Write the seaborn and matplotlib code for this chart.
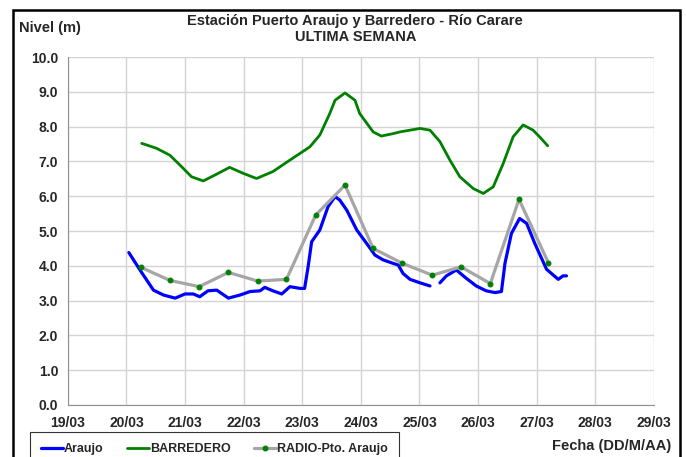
import pandas as pd
import matplotlib.pyplot as plt
import matplotlib.patches as mpatches
import seaborn as sns

# days counted from 19/03 00:00
araujo_day = [1.04, 1.23, 1.46, 1.63, 1.83, 2.00, 2.14, 2.25, 2.39, 2.54, 2.74, 2.94, 3.11,
              3.28, 3.36, 3.50, 3.65, 3.79, 3.96, 4.04, 4.10, 4.16, 4.30, 4.44, 4.56, 4.64,
              4.76, 4.93, 5.10, 5.24, 5.38, 5.55, 5.64, 5.72, 5.84, 6.01, 6.18,
              6.35, 6.46, 6.63, 6.80, 6.97, 7.14, 7.29, 7.40, 7.46, 7.57, 7.71, 7.83, 7.97,
              8.17, 8.28, 8.37, 8.45, 8.51]
araujo_val = [4.38, 3.88, 3.30, 3.16, 3.07, 3.19, 3.19, 3.11, 3.28, 3.30, 3.07, 3.16, 3.26,
              3.28, 3.38, 3.28, 3.19, 3.40, 3.35, 3.35, 3.97, 4.69, 5.03, 5.70, 5.99, 5.89,
              5.60, 5.03, 4.64, 4.31, 4.17, 4.07, 4.02, 3.78, 3.61, 3.51, 3.42,
              3.51, 3.71, 3.88, 3.64, 3.42, 3.28, 3.23, 3.26, 4.07, 4.93, 5.36, 5.22, 4.64,
              3.90, 3.74, 3.61, 3.71, 3.71]
araujo_seg = [0] * 37 + [1] * 18

barr_day = [1.26, 1.51, 1.74, 1.94, 2.11, 2.31, 2.51, 2.76, 2.99, 3.22, 3.50, 3.79, 4.13,
            4.30, 4.47, 4.56, 4.73, 4.90, 4.98, 5.21, 5.35, 5.55, 5.67, 6.01, 6.18, 6.35,
            6.52, 6.69, 6.92, 7.09, 7.26, 7.43, 7.60, 7.77, 7.94, 8.05, 8.19]
barr_val = [7.52, 7.38, 7.18, 6.85, 6.56, 6.44, 6.61, 6.83, 6.66, 6.51, 6.71, 7.04, 7.42,
            7.76, 8.38, 8.76, 8.97, 8.76, 8.38, 7.85, 7.73, 7.80, 7.85, 7.95, 7.90, 7.57,
            7.04, 6.56, 6.22, 6.08, 6.27, 6.94, 7.71, 8.05, 7.90, 7.71, 7.45]

radio_day = [1.24, 1.74, 2.24, 2.74, 3.24, 3.73, 4.23, 4.73, 5.21, 5.71, 6.22, 6.71, 7.21, 7.70, 8.20]
radio_val = [3.96, 3.58, 3.40, 3.81, 3.56, 3.61, 5.46, 6.32, 4.50, 4.07, 3.73, 3.97, 3.49, 5.91, 4.09]

tick_labels = ['19/03', '20/03', '21/03', '22/03', '23/03', '24/03',
               '25/03', '26/03', '27/03', '28/03', '29/03']

sns.set_style('white')
plt.rcParams['font.family'] = ['Liberation Sans Narrow', 'Liberation Sans', 'DejaVu Sans']
plt.rcParams['font.weight'] = 'bold'

df_a = pd.DataFrame({'dia': araujo_day, 'nivel': araujo_val, 'seg': araujo_seg})
df_b = pd.DataFrame({'dia': barr_day, 'nivel': barr_val})
df_r = pd.DataFrame({'dia': radio_day, 'nivel': radio_val})

fig = plt.figure(figsize=(6.86, 4.57), dpi=100)
ax = fig.add_axes([0.099, 0.114, 0.854, 0.761])

sns.lineplot(data=df_a, x='dia', y='nivel', units='seg', estimator=None, sort=False,
             color='#0000ff', linewidth=2.3, label='Araujo', ax=ax)
sns.lineplot(data=df_b, x='dia', y='nivel', estimator=None, sort=False,
             color='#008000', linewidth=2.0, label='BARREDERO', ax=ax)
sns.lineplot(data=df_r, x='dia', y='nivel', estimator=None, sort=False,
             color='#a6a6a6', linewidth=2.3, marker='o', markersize=3.5,
             markerfacecolor='#008000', markeredgecolor='#008000',
             label='RADIO-Pto. Araujo', ax=ax)

ax.set_xlim(0, 10)
ax.set_ylim(0, 10)
ax.set_xticks(range(11))
ax.set_xticklabels(tick_labels, fontsize=10, fontweight='bold')
ax.set_yticks([i for i in range(11)])
ax.set_yticklabels(['%.1f' % i for i in range(11)], fontsize=10, fontweight='bold')
ax.grid(True, color='#d4d4d4', linewidth=1)
ax.set_xlabel('')
ax.set_ylabel('')
for s in ['top', 'right']:
    ax.spines[s].set_visible(False)
for s in ['left', 'bottom']:
    ax.spines[s].set_color('#909090')
ax.tick_params(axis='both', direction='out', length=4, color='#909090', pad=3)
ax.tick_params(axis='x', pad=4)

ax.get_legend().remove()
handles, labels = ax.get_legend_handles_labels()
uniq = dict(zip(labels[::-1], handles[::-1]))
order = ['Araujo', 'BARREDERO', 'RADIO-Pto. Araujo']
leg = fig.legend([uniq[k] for k in order], order, loc='upper left', bbox_to_anchor=(0.044, 0.055),
                 borderaxespad=0, ncol=3, frameon=True, fancybox=False, edgecolor='black',
                 prop={'weight': 'bold', 'size': 9}, handlelength=1.7,
                 handletextpad=0.1, columnspacing=1.9, borderpad=0.9)
leg.get_frame().set_linewidth(0.8)

fig.text(0.518, 0.953, 'Estación Puerto Araujo y Barredero - Río Carare', ha='center',
         va='center', fontsize=10.5, fontweight='bold')
fig.text(0.518, 0.918, 'ULTIMA SEMANA', ha='center', va='center', fontsize=10.5, fontweight='bold')
fig.text(0.027, 0.938, 'Nivel (m)', ha='left', va='center', fontsize=10.5, fontweight='bold')
fig.text(0.978, 0.023, 'Fecha (DD/M/AA)', ha='right', va='center', fontsize=10.5, fontweight='bold')

fig.patches.append(mpatches.Rectangle((0.019, -0.05), 0.972, 1.029, transform=fig.transFigure,
                                      fill=False, edgecolor='black', linewidth=1.8))

plt.savefig('out.png', dpi=100)
